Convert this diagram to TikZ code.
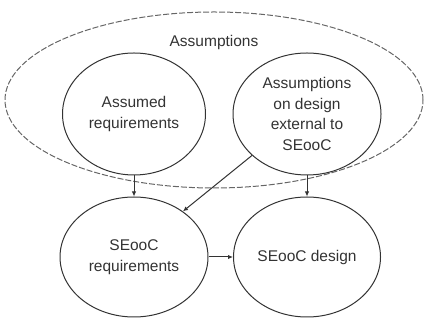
\documentclass[tikz,border=0pt]{standalone}
\usepackage{fontspec}
\setmainfont{Liberation Sans}
\usetikzlibrary{shapes.geometric,arrows.meta}
\begin{document}
\begin{tikzpicture}[x=1pt,y=1pt,
  oval/.style={ellipse,draw=black!80,line width=1pt,inner sep=0pt,align=center,
    font=\fontsize{15.5}{20.5}\selectfont,text=black!80},
  conn/.style={draw=black!80,line width=1pt,-{Latex[length=5pt,width=4.5pt]}}]
\useasboundingbox (0,0) rectangle (427,320);
\node[ellipse,draw=black!60,dashed,dash pattern=on 6pt off 2pt,line width=1pt,
  minimum width=418,minimum height=176,inner sep=0pt] (outer) at (214,220) {};
\node[font=\fontsize{15.5}{20.5}\selectfont,text=black!80] (lbl) at (214,278) {Assumptions};
\node[oval,minimum width=143,minimum height=122] (a) at (134,206) {Assumed\\requirements};
\node[oval,minimum width=148,minimum height=122] (b) at (307,206) {Assumptions\\on design\\external to\\SEooC};
\node[oval,minimum width=148,minimum height=120] (c) at (134,63) {SEooC\\requirements};
\node[oval,minimum width=147,minimum height=120] (d) at (307,63) {SEooC design};
\draw[conn] (a.south) -- (c.north);
\draw[conn] (b.south) -- (d.north);
\draw[conn] (b.217) -- (c.43);
\draw[conn] (c.east) -- (d.west);
\end{tikzpicture}
\end{document}
